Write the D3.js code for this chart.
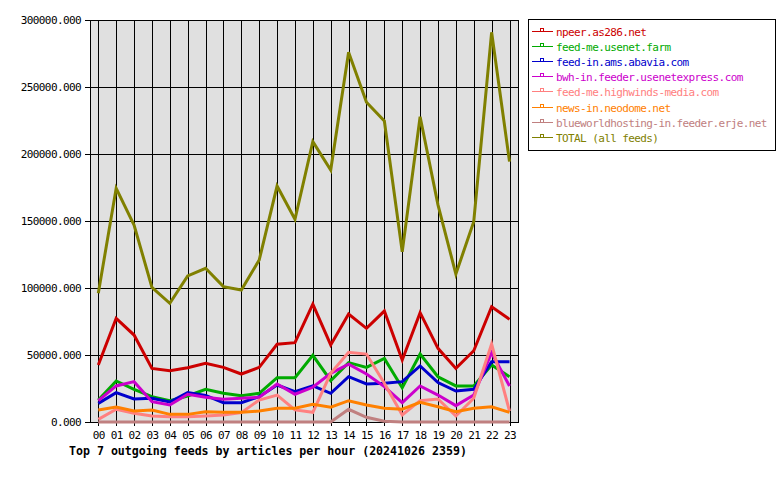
<!DOCTYPE html>
<html><head><meta charset="utf-8">
<script src="https://cdn.jsdelivr.net/npm/d3@7"></script>
<style>
body{margin:0;background:#fff;}
text{font-family:"DejaVu Sans Mono",monospace;}
</style></head>
<body><svg id="c" width="780" height="480"></svg>
<script>
const hours = ["00","01","02","03","04","05","06","07","08","09","10","11","12","13","14","15","16","17","18","19","20","21","22","23"];
const feedNames = ["npeer.as286.net","feed-me.usenet.farm","feed-in.ams.abavia.com","bwh-in.feeder.usenetexpress.com","feed-me.highwinds-media.com","news-in.neodome.net","blueworldhosting-in.feeder.erje.net","TOTAL (all feeds)"];
const feedColors = ["#cc0000","#00aa00","#0000cc","#cc00cc","#ff8080","#ff8000","#c08080","#808000"];
const npeer = [42500,77400,64900,40000,38300,40500,43800,40800,35800,40800,58000,59200,88000,57500,80600,69900,82800,46300,81600,55000,40000,53200,86000,76600];
const usenetFarm = [16400,30600,24400,18900,15900,19400,24400,21400,19600,21400,33100,33100,49800,30800,44300,40800,47500,25600,50700,33800,26900,26900,42500,33800];
const abavia = [13900,21900,17200,17700,14900,21900,19900,14400,14400,18900,27600,22600,26900,21400,33800,28400,28900,30100,41800,29400,23100,24400,45000,45000];
const usenetexpress = [15900,26900,30100,15200,12700,20700,18400,16900,17700,18400,28400,20700,25900,36300,43100,35800,26400,14400,26900,20100,12200,20100,51700,26900];
const highwinds = [2000,9500,6500,4500,4000,4000,4500,5200,7000,16400,20100,9000,7200,36300,52000,50700,28900,5200,15900,17200,4500,17700,58200,8200];
const neodome = [9000,11200,8200,9000,5700,5700,7700,7200,7200,8200,10200,10200,13200,11000,15900,12700,10200,9500,14700,11400,7700,10200,11400,7200];
const blueworld = [0,0,0,0,0,0,0,0,0,0,0,0,0,0,9500,3500,500,0,0,0,0,0,0,0];
const total = [96000,174400,147000,100500,88600,109000,114700,101000,98500,120900,176100,151300,209200,188100,275900,238600,224600,127100,227800,162000,110400,149500,290800,194300];
const yTicks = [0,50000,100000,150000,200000,250000,300000];
const titleText = "Top 7 outgoing feeds by articles per hour (20241026 2359)";

const series = [npeer,usenetFarm,abavia,usenetexpress,highwinds,neodome,blueworld,total];

const svg = d3.select("#c");
const L=90,T=20,R=519,B=422;
const x = d3.scalePoint().domain(hours).range([98.3,509.5]);
const y = d3.scaleLinear().domain([0,300000]).range([B,T]);

svg.append("rect").attr("x",L).attr("y",T).attr("width",R-L).attr("height",B-T).attr("fill","#e0e0e0");

// horizontal grid
svg.append("g").attr("transform",`translate(${R},0)`)
  .call(d3.axisLeft(y).tickValues(yTicks).tickSize(R-L+5).tickFormat(""))
  .call(g=>{g.select(".domain").remove();g.selectAll("line").attr("stroke","#000").attr("shape-rendering","crispEdges");});
// vertical grid
svg.append("g").attr("transform",`translate(0,${B+4})`)
  .call(d3.axisTop(x).tickSize(B+4-T).tickFormat(""))
  .call(g=>{g.select(".domain").remove();g.selectAll("line").attr("stroke","#000").attr("shape-rendering","crispEdges");});

// y labels
svg.append("g").attr("transform",`translate(${L},0)`)
  .call(d3.axisLeft(y).tickValues(yTicks).tickSize(5).tickPadding(4).tickFormat(d3.format(".3f")))
  .call(g=>{g.select(".domain").remove();g.selectAll("line").remove();
    g.selectAll("text").attr("font-family","DejaVu Sans Mono").attr("font-size",11).attr("letter-spacing","-0.6px").attr("fill","#000");});
// x labels
svg.append("g").attr("transform",`translate(0,${B})`)
  .call(d3.axisBottom(x).tickSize(0).tickPadding(9))
  .call(g=>{g.select(".domain").remove();
    g.selectAll("text").attr("font-family","DejaVu Sans Mono").attr("font-size",11).attr("letter-spacing","-0.6px").attr("fill","#000");});

// frame
svg.append("rect").attr("x",L+0.5).attr("y",T+0.5).attr("width",R-L-1).attr("height",B-T).attr("fill","none").attr("stroke","#000");

const line = d3.line().x((d,i)=>x(hours[i])).y(d=>y(d));
series.forEach((s,k)=>{
  svg.append("path").attr("d",line(s)).attr("fill","none").attr("stroke",feedColors[k])
    .attr("stroke-width",3).attr("stroke-linejoin","miter");
});

// title
svg.append("text").attr("x",69).attr("y",455).attr("font-size",11.6).attr("font-weight","bold").attr("fill","#000").text(titleText);

// legend
svg.append("rect").attr("x",528.5).attr("y",19.5).attr("width",247).attr("height",131).attr("fill","#fff").attr("stroke","#000");
feedNames.forEach((n,i)=>{
  const ly = 31+15.1*i;
  const g = svg.append("g");
  g.append("line").attr("x1",532).attr("x2",553).attr("y1",Math.round(ly)+0.5).attr("y2",Math.round(ly)+0.5).attr("stroke",feedColors[i]);
  g.append("rect").attr("x",540.5).attr("y",Math.round(ly)-2.5).attr("width",3).attr("height",3).attr("fill","none").attr("stroke",feedColors[i]);
  g.append("text").attr("x",556).attr("y",Math.round(ly)+5).attr("font-size",11).attr("letter-spacing","-0.6px").attr("fill",feedColors[i]).text(n);
});
</script></body></html>
